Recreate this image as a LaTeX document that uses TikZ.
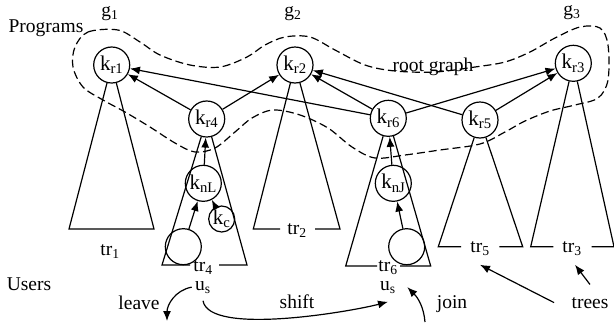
\documentclass[tikz,border=0pt]{standalone}
\usepackage{fontspec}
\setmainfont{Liberation Serif}
\usetikzlibrary{arrows.meta}

\tikzset{
	knode/.style={circle, draw, very thick, minimum size=36pt, inner sep=0pt, font=\fontsize{21}{24}\selectfont},
	cnode/.style={circle, draw, very thick, minimum size=26pt, inner sep=0pt, font=\fontsize{21}{24}\selectfont},
	link/.style={very thick, -{Latex[length=10pt,width=8pt]}},
	tree/.style={very thick},
	lbl/.style={anchor=base},
}

\begin{document}
\begin{tikzpicture}[x=1pt, y=-1pt, font=\fontsize{19.5}{22}\selectfont]
	\useasboundingbox (0,0) rectangle (614,322);

	%root nodes
	\node[knode] (kr1) at (111.7,65) {k\textsubscript{r1}};
	\node[knode] (kr2) at (295,65) {k\textsubscript{r2}};
	\node[knode] (kr3) at (573.3,63.3) {k\textsubscript{r3}};
	\node[knode] (kr4) at (206.7,119) {k\textsubscript{r4}};
	\node[knode] (kr6) at (388.3,118.3) {k\textsubscript{r6}};
	\node[knode] (kr5) at (480,120) {k\textsubscript{r5}};
	%inner nodes and users
	\node[knode] (knL) at (203.3,183.3) {k\textsubscript{nL}};
	\node[cnode] (kc) at (221.7,219) {k\textsubscript{c}};
	\node[knode] (knJ) at (393.3,183.3) {k\textsubscript{nJ}};
	\node[knode] (ul) at (183.3,246.7) {};
	\node[knode] (uj) at (406.7,246.7) {};

	%labels
	\node[lbl] (prog) at (46,32) {Programs};
	\node[lbl] (g1) at (110,16) {g\textsubscript{1}};
	\node[lbl] (g2) at (293,16) {g\textsubscript{2}};
	\node[lbl] (g3) at (572,15) {g\textsubscript{3}};
	\node[lbl] (tr1) at (110,255) {tr\textsubscript{1}};
	\node[lbl] (tr2) at (297,234) {tr\textsubscript{2}};
	\node[lbl] (tr4) at (203,271) {tr\textsubscript{4}};
	\node[lbl] (tr6) at (388,271) {tr\textsubscript{6}};
	\node[lbl] (tr5) at (480,252) {tr\textsubscript{5}};
	\node[lbl] (tr3) at (572,252) {tr\textsubscript{3}};
	\node[lbl] (users) at (29,290) {Users};
	\node[lbl] (us4) at (203,290) {u\textsubscript{s}};
	\node[lbl] (us6) at (388,290) {u\textsubscript{s}};
	\node[lbl] (leave) at (139,309) {leave};
	\node[lbl] (shift) at (297,308) {shift};
	\node[lbl] (join) at (452,308) {join};
	\node[lbl] (trees) at (590,308) {trees};

	%trees
	\draw[tree] (kr1) -- (69,229) -- (154,229) -- (kr1);				%tr1
	\draw[tree] (280,229) -- (253.3,229) -- (kr2) -- (340,229) -- (315,229);	%tr2
	\draw[tree] (190,265) -- (162,265) -- (kr4) -- (247,265) -- (219,265);	%tr4
	\draw[tree] (377,266) -- (345.7,266) -- (kr6) -- (430.7,266) -- (400,266);	%tr6
	\draw[tree] (461,246.7) -- (438.3,246.7) -- (kr5) -- (522.7,246.7) -- (499.3,246.7);	%tr5
	\draw[tree] (553.3,246.7) -- (530.7,246.7) -- (kr3) -- (614,246.7) -- (591.7,246.7);	%tr3

	%root graph
	\draw[very thick, dash pattern=on 8pt off 4pt] plot[smooth cycle, tension=0.55] coordinates {
		(75,47) (88,32) (118,30) (140,42) (160,55) (190,65) (220,67) (247,57) (265,45)
		(285,37) (310,37) (335,50) (365,65) (395,71) (435,72) (475,67) (505,62) (530,52)
		(555,38) (580,27) (600,28) (608,45) (608,80) (598,98) (575,105) (550,111) (525,121)
		(505,132) (480,144) (440,150) (405,155) (375,158) (352,147) (328,128) (300,115)
		(273,110) (252,118) (235,132) (215,148) (195,152) (175,143) (150,127) (125,112)
		(103,100) (83,87) (73,67)};
	\node[lbl] (root) at (433,71) {root graph};

	%links
	\draw[link] (kr4) -- (kr1);
	\draw[link] (kr4) -- (kr2);
	\draw[link] (kr6) -- (kr1);
	\draw[link] (kr6) -- (kr2);
	\draw[link] (kr6) -- (kr3);
	\draw[link] (kr5) -- (kr2);
	\draw[link] (kr5) -- (kr3);
	\draw[link] (knL) -- (kr4);
	\draw[link] (ul) -- (knL);
	\draw[link] (kc) -- (knL);
	\draw[link] (knJ) -- (kr6);
	\draw[link] (uj) -- (knJ);

	%users moving
	\coordinate (lv) at (167,321);
	\coordinate (jn) at (425,322);
	\draw[link] (us4.west) to[out=190,in=90] (lv);
	\draw[link] ([yshift=-4pt]us4.south) to[out=-80,in=195,looseness=0.5] ([yshift=-5pt]us6.south);
	\draw[link] (jn) to[out=95,in=-45] ([xshift=8pt]us6.east);
	\draw[link] ([xshift=-14pt]trees.west) -- ([yshift=-6pt]tr5.south);
	\draw[link] ([yshift=9pt]trees.north) -- ([xshift=3pt,yshift=-6pt]tr3.south);
\end{tikzpicture}
\end{document}
